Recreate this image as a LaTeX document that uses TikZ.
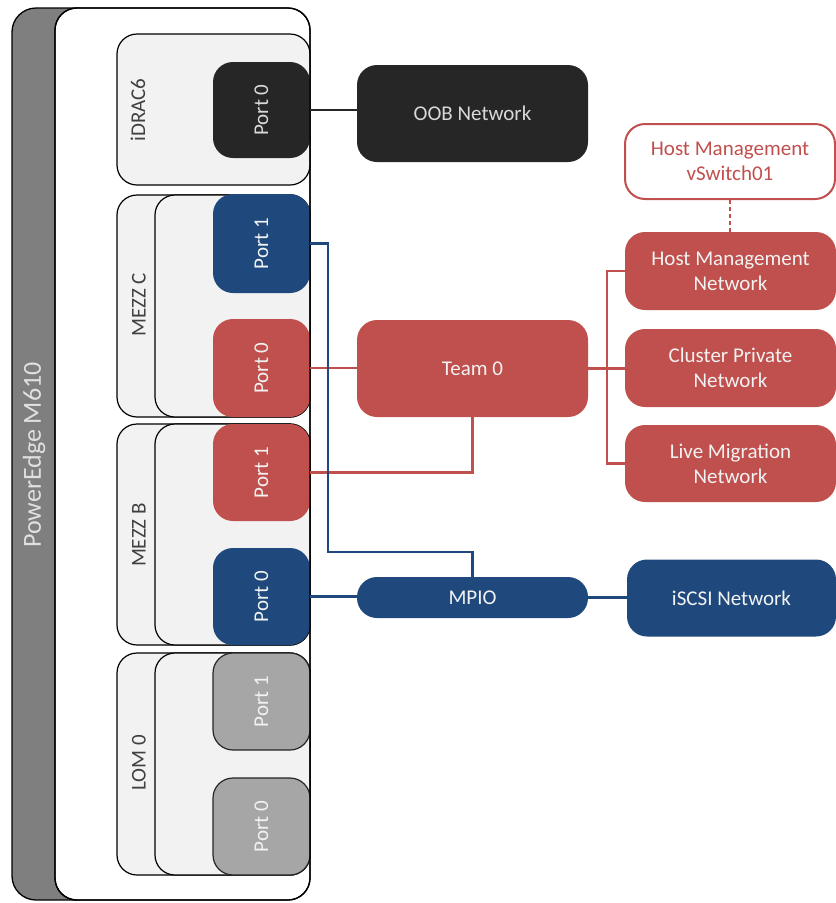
\documentclass[tikz,border=0pt]{standalone}
\usepackage{fontspec}
\setmainfont{Carlito}
\definecolor{cred}{HTML}{C0504D}
\definecolor{cblue}{HTML}{1F497D}
\definecolor{cblack}{HTML}{262626}
\definecolor{cport}{HTML}{A6A6A6}
\definecolor{ccard}{HTML}{F2F2F2}
\definecolor{cband}{HTML}{7F7F7F}
\definecolor{clabel}{HTML}{404040}
\newcommand\fsmain{\fontsize{21}{25}\selectfont}
\newcommand\fsbig{\fontsize{26}{30}\selectfont}
\tikzset{
  base/.style={rectangle, inner sep=0pt, align=center, font=\fsmain},
  band/.style={base, fill=cband, draw=black, line width=1.3pt, rounded corners=24pt},
  panel/.style={base, fill=white, draw=black, line width=1.3pt, rounded corners=22pt},
  card/.style={base, fill=ccard, draw=black, line width=1.2pt, rounded corners=20pt},
  port/.style={base, rounded corners=20pt, minimum width=97pt},
  blueport/.style={port, fill=cblue, text=ccard},
  redport/.style={port, fill=cred, text=ccard},
  blackport/.style={port, fill=cblack, text=ccard},
  grayport/.style={port, fill=cport, draw=black!85, line width=1.2pt, text=ccard},
  cardlabel/.style={base, rotate=90, text=clabel},
  netbox/.style={base, rounded corners=20pt, text=ccard},
  redbox/.style={netbox, fill=cred},
  bluebox/.style={netbox, fill=cblue},
  blackbox/.style={netbox, fill=cblack, text=black!15},
  redwire/.style={draw=cred, line width=2.6pt},
  bluewire/.style={draw=cblue, line width=2.6pt},
  blackwire/.style={draw=cblack, line width=2pt},
}
\begin{document}
\begin{tikzpicture}[x=1pt,y=-1pt]
\useasboundingbox (0,0) rectangle (836,903);
% chassis
\node[band, minimum width=88pt, minimum height=892pt] (band) at (56,454) {};
\node[panel, minimum width=255pt, minimum height=892pt] (panel) at (182.5,454) {};
\node[base, rotate=90, font=\fsbig, text=black!12] (model) at (34,455) {PowerEdge M610};
% iDRAC
\node[card, minimum width=193pt, minimum height=151pt] (idrac) at (213.5,109.5) {};
\node[blackport, minimum height=96pt, label={[rotate=90, font=\fsmain, text=black!15]center:Port 0}] (ip0) at (261.5,110) {};
\node[cardlabel] (idraclbl) at (138,110) {iDRAC6};
% MEZZ C
\node[card, minimum width=193pt, minimum height=222pt] (mezzc) at (213.5,306) {};
\node[card, minimum width=155pt, minimum height=222pt] (mezzci) at (232.5,306) {};
\node[blueport, minimum height=99pt, label={[rotate=90, font=\fsmain, text=ccard]center:Port 1}] (cp1) at (261.5,243.5) {};
\node[redport, minimum height=98pt, label={[rotate=90, font=\fsmain, text=ccard]center:Port 0}] (cp0) at (261.5,368) {};
\node[cardlabel] (mezzclbl) at (139,305) {MEZZ C};
% MEZZ B
\node[card, minimum width=193pt, minimum height=221pt] (mezzb) at (213.5,534.5) {};
\node[card, minimum width=155pt, minimum height=221pt] (mezzbi) at (232.5,534.5) {};
\node[redport, minimum height=97pt, label={[rotate=90, font=\fsmain, text=ccard]center:Port 1}] (bp1) at (261.5,472.5) {};
\node[blueport, minimum height=97pt, label={[rotate=90, font=\fsmain, text=ccard]center:Port 0}] (bp0) at (261.5,596.5) {};
\node[cardlabel] (mezzblbl) at (139,535) {MEZZ B};
% LOM 0
\node[card, minimum width=193pt, minimum height=222pt] (lom) at (213.5,764) {};
\node[card, minimum width=155pt, minimum height=222pt] (lomi) at (232.5,764) {};
\node[grayport, minimum height=97pt, label={[rotate=90, font=\fsmain, text=ccard]center:Port 1}] (lp1) at (261.5,701.5) {};
\node[grayport, minimum height=97pt, label={[rotate=90, font=\fsmain, text=ccard]center:Port 0}] (lp0) at (261.5,826.5) {};
\node[cardlabel] (lomlbl) at (139,763) {LOM 0};
% panel outline on top
\node[panel, fill=none, minimum width=255pt, minimum height=892pt] (panelb) at (182.5,454) {};
% network nodes
\node[blackbox, minimum width=231pt, minimum height=97pt] (oob) at (472.5,113.5) {OOB Network};
\node[base, rounded corners=20pt, fill=white, draw=cred, line width=2pt, text=cred, minimum width=210pt, minimum height=75pt] (vsw) at (730,161.5) {Host Management\\vSwitch01};
\node[redbox, minimum width=211pt, minimum height=78pt] (hmn) at (730.5,271) {Host Management\\Network};
\node[redbox, minimum width=211pt, minimum height=78pt] (cpn) at (730.5,368) {Cluster Private\\Network};
\node[redbox, minimum width=211pt, minimum height=77pt] (lmn) at (730.5,463.5) {Live Migration\\Network};
\node[redbox, minimum width=231pt, minimum height=97pt] (team) at (472.5,368.5) {Team 0};
\node[bluebox, minimum width=231pt, minimum height=41pt] (mpio) at (472.5,597.5) {MPIO};
\node[bluebox, minimum width=209pt, minimum height=77pt] (iscsi) at (731.5,598) {iSCSI Network};
% junctions
\coordinate (br) at (607,463.5);
\coordinate (bj) at (328,552);
% connectors
\draw[blackwire] (ip0.east) -- (ip0.east -| oob.west);
\draw[cred, line width=2.6pt, dash pattern=on 4pt off 3pt] (vsw.south) -- (vsw.south |- hmn.north);
\draw[redwire] (cp0.east) -- (cp0.east -| team.west);
\draw[redwire] (bp1.east) -| (team.south);
\draw[redwire] (team.east) -- (team.east -| cpn.west);
\draw[redwire] (hmn.west) -| (br) -- (lmn.west);
\draw[bluewire] (cp1.east) -| (bj) -| (mpio.north);
\draw[bluewire] (bp0.east) -- (bp0.east -| mpio.west);
\draw[bluewire] (mpio.east) -- (mpio.east -| iscsi.west);
\end{tikzpicture}
\end{document}
